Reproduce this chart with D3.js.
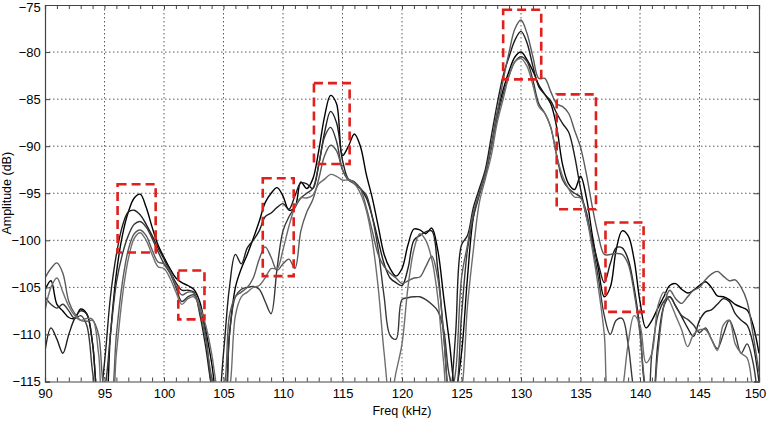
<!DOCTYPE html>
<html>
<head>
<meta charset="utf-8">
<script src="https://cdn.jsdelivr.net/npm/d3@7"></script>
<style>
  body { margin: 0; background: #fff; }
  svg { display: block; font-family: "Liberation Sans", Arial, sans-serif; }
</style>
</head>
<body>
<svg id="canvas" width="767" height="423"></svg>
<script>
// frequency grid (kHz), 0.5 kHz step
let freq = d3.range(90, 150.25, 0.5)

let trace1 = [-105.3,-104.3,-106.8,-107.5,-108.2,-108.3,-107.3,-107.8,-111,-117,-118,-110,-103.5,-99.5,-97,-95.5,-95.1,-96.5,-98.6,-100.5,
  -101.8,-103,-104,-104.5,-104.8,-105.2,-106.5,-109.5,-113,-117,-118,-110,-105,-103,-101.5,-99.8,-98,-96,-95,-94.4,
  -95.3,-96.8,-96.5,-93.8,-94.5,-93.5,-90.5,-86.8,-84.6,-85.5,-91,-90,-88.7,-90,-93,-95.5,-98.5,-101.5,-103,-103.8,
  -103,-100.5,-98.8,-98.9,-99.3,-98.7,-101,-106,-111,-116,-112,-104,-97.5,-95,-93,-90,-86.5,-84,-82,-80.5,
  -80,-80.8,-82,-83.5,-84.5,-85.5,-88,-92,-94,-94.6,-93.2,-95.5,-99.5,-103,-106,-105,-101,-99,-99.5,-102,
  -106.5,-109.3,-108.5,-107.2,-106,-104.8,-104.6,-105.2,-105.6,-105.3,-104.8,-104.4,-105,-105.9,-106,-106.3,-106.8,-107.1,-107.4,-109,
  -112]

let trace2 = [-111.8,-109.3,-110.5,-112,-110,-108.3,-107.5,-107.8,-111,-118,-113,-106,-101.5,-98.5,-97,-96.8,-97.3,-98.3,-99.5,-100.8,
  -102,-103.3,-104.5,-105.3,-105.3,-105.5,-107.8,-111.3,-115.5,-118,-112,-105,-101.5,-102.5,-100.8,-100,-99,-97.5,-97.1,-96.5,
  -96.1,-96.7,-95.3,-93.9,-94,-94.5,-92,-88.5,-86.3,-87.5,-91.5,-93.5,-93.8,-94.5,-95.5,-97.5,-100,-102.5,-104,-104.5,
  -104.8,-103,-100,-99.5,-99.1,-99,-103,-110,-117,-110,-100.5,-99.5,-96.5,-94.5,-92.5,-89,-85.5,-82.5,-80.5,-78.7,
  -77.8,-79,-81.5,-83.7,-84.5,-85.2,-86.5,-87.6,-88.5,-91,-94.5,-97.5,-100,-102.5,-104.5,-102.5,-100.8,-100.8,-102,-105,
  -109.5,-116,-117,-111,-107,-106,-107,-108.1,-109.3,-110.2,-108.5,-107.6,-107.4,-106.8,-106.2,-106.5,-107.8,-108.5,-109,-111,
  -115]

let trace3 = [-106,-106.8,-107.2,-106.8,-107.5,-108.3,-108,-109,-114,-118,-116,-110,-104.5,-101.5,-99.5,-98.3,-98,-98.6,-99.8,-101.2,
  -102.5,-103.5,-105,-106.5,-106,-105.8,-107,-110,-115.5,-118,-118,-110,-106,-105.2,-105,-104.9,-105.2,-106.5,-107.8,-103,
  -99,-97.5,-96.5,-95.5,-95,-94.5,-92,-89,-88,-89.5,-92.5,-93.6,-94,-94.5,-95.2,-97.5,-101,-106,-110.1,-110.5,
  -106.3,-106.1,-106,-106,-106.3,-106.8,-107.5,-109.5,-114.5,-116,-108,-101,-97.5,-95.2,-93,-90.2,-87,-84.5,-82.5,-81,
  -80.5,-81,-83,-85.5,-86.5,-88,-91,-93.6,-94.5,-95,-95.4,-97,-100.5,-104,-108,-110,-108.5,-108.3,-111,-116,
  -118,-118,-112,-108,-106.5,-106,-107,-108,-108.4,-109,-109.8,-109.3,-110.5,-111.5,-110,-108.5,-110,-112,-111,-113,
  -118]

let trace4 = [-104,-103,-102.4,-103.5,-106.5,-107.8,-108.5,-108.6,-108.5,-110,-116,-117,-110,-104.5,-101,-99.3,-98.9,-99.5,-101,-102.3,
  -102.5,-103.3,-104.8,-105.8,-105.5,-105.6,-107.5,-110.5,-114.5,-117,-116,-108,-106,-105.5,-105,-104,-102,-100.7,-101.8,-103.2,
  -102.5,-102,-103,-99,-97,-95.7,-93.5,-91,-89.9,-90.5,-92.5,-93.5,-93.8,-94.5,-96.5,-99,-101.5,-102.8,-103.5,-104,
  -104.6,-104.3,-104,-103.9,-102.8,-101.7,-104,-110,-117,-114,-104,-100.5,-97,-95,-92.9,-90,-86.5,-83,-80,-77.5,
  -76.6,-78,-80.5,-82.8,-82.8,-84.2,-85.5,-85.8,-86.5,-88.3,-90.1,-93,-96.5,-99.5,-101.5,-101.5,-101.4,-101.5,-102.5,-105.5,
  -110,-116,-118,-112,-107,-105.3,-106.2,-106.7,-106,-105.3,-105,-104.2,-103.6,-103.3,-103.8,-104.3,-104.2,-105,-106.5,-110,
  -114]

let trace5 = [-107.5,-105,-104,-105.5,-107,-108,-108.5,-108.3,-108.4,-112,-118,-118,-112,-106,-102,-99.8,-99.2,-100,-101.5,-102.8,
  -103,-104,-105.5,-106.8,-106.2,-106,-107,-109,-112,-116,-118,-116,-108,-106,-105.5,-105,-104.8,-104,-103,-103,
  -101,-98.5,-96.5,-95.5,-95.5,-95.2,-94,-93.5,-93,-93.2,-93.6,-93.6,-94,-95,-96.8,-100,-105,-112,-117,-114,
  -111,-105,-101,-99.3,-100,-102,-106,-113,-118,-118,-116,-107,-101,-96,-93.5,-91,-87.5,-85,-82.5,-81,
  -80.7,-81.5,-83.5,-85.8,-86.5,-88,-91,-93.2,-94.5,-95.4,-95.5,-97.5,-101,-105,-110,-118,-118,-116,-111,-108,
  -109,-113,-112,-107,-105.5,-106.5,-108,-109.5,-111.3,-110,-109.5,-109.5,-110.5,-111.7,-109,-108.5,-111,-112,-112.5,-116,
  -119]

let traces = [trace1, trace2, trace3, trace4, trace5]
let traceColors = ['#000000', '#1e1e1e', '#383838', '#5a5a5a', '#6e6e6e']

// red dashed boxes: [x0, x1] kHz and [top, bottom] dB
let boxX0 = [96.1, 101.2, 108.3, 112.6, 128.5, 133.0, 137.1]
let boxX1 = [99.3, 103.4, 110.9, 115.6, 131.7, 136.3, 140.3]
let boxTop = [-94.05, -103.2, -93.4, -83.3, -75.5, -84.5, -98.1]
let boxBottom = [-101.3, -108.4, -103.8, -91.9, -82.9, -96.7, -107.6]

let xTicks = d3.range(90, 151, 5)
let yTicks = d3.range(-115, -74, 5)

let svg = d3.select('#canvas')
let margin = {left: 45, right: 8, top: 5, bottom: 41.5}
let width = 767 - margin.left - margin.right
let height = 423 - margin.top - margin.bottom

let xScale = d3.scaleLinear().domain([90, 150]).range([0, width])
let yScale = d3.scaleLinear().domain([-115, -75]).range([height, 0])

let plot = svg.append('g').attr('transform', 'translate(' + margin.left + ',' + margin.top + ')')

plot.append('clipPath').attr('id', 'clip')
    .append('rect').attr('width', width).attr('height', height)

// grid
plot.append('g')
    .selectAll('line')
    .data(xTicks.slice(1, -1))
    .enter()
    .append('line')
    .attr('x1', (d) => xScale(d)).attr('x2', (d) => xScale(d))
    .attr('y1', 0).attr('y2', height)
    .attr('stroke', '#333').attr('stroke-width', 0.8).attr('stroke-dasharray', '1.5,2.5')

plot.append('g')
    .selectAll('line')
    .data(yTicks.slice(1, -1))
    .enter()
    .append('line')
    .attr('y1', (d) => yScale(d)).attr('y2', (d) => yScale(d))
    .attr('x1', 0).attr('x2', width)
    .attr('stroke', '#333').attr('stroke-width', 0.8).attr('stroke-dasharray', '1.5,2.5')

// traces
let line = d3.line()
    .x((d, i) => xScale(freq[i]))
    .y((d) => yScale(d))
    .curve(d3.curveCatmullRom.alpha(0.5))

plot.append('g')
    .attr('clip-path', 'url(#clip)')
    .selectAll('path')
    .data(traces)
    .enter()
    .append('path')
    .attr('d', (d) => line(d))
    .attr('fill', 'none')
    .attr('stroke', (d, i) => traceColors[i])
    .attr('stroke-width', 1.4)

// red boxes
plot.append('g')
    .selectAll('rect')
    .data(boxX0)
    .enter()
    .append('rect')
    .attr('x', (d) => xScale(d))
    .attr('y', (d, i) => yScale(boxTop[i]))
    .attr('width', (d, i) => xScale(boxX1[i]) - xScale(d))
    .attr('height', (d, i) => yScale(boxBottom[i]) - yScale(boxTop[i]))
    .attr('fill', 'none')
    .attr('stroke', '#e0201c')
    .attr('stroke-width', 2.6)
    .attr('stroke-dasharray', '9,5')

// axes (ticks inward)
let minorX = d3.range(90, 150.5, 1)

let bottomAxis = d3.axisBottom(xScale).tickValues(minorX).tickSize(-4)
    .tickFormat((d) => (d % 5 === 0 ? d : ''))
let topAxis = d3.axisTop(xScale).tickValues(minorX).tickSize(-4).tickFormat('')
let leftAxis = d3.axisLeft(yScale).tickValues(yTicks).tickSize(-5)
let rightAxis = d3.axisRight(yScale).tickValues(yTicks).tickSize(-5).tickFormat('')

let styleAxis = (g) => {
    g.select('.domain').attr('stroke', '#444').attr('stroke-width', 1.2)
    g.selectAll('.tick line').attr('stroke', '#444')
    g.selectAll('text').attr('font-size', 13).attr('fill', '#000')
        .attr('font-family', '"Liberation Sans", Arial, sans-serif')
}

plot.append('g').attr('transform', 'translate(0,' + height + ')').call(bottomAxis).call(styleAxis)
    .selectAll('text').attr('dy', '1.05em')
    .attr('dx', (d) => (d === 150 ? -4 : 0))
plot.append('g').call(topAxis).call(styleAxis)
plot.append('g').call(leftAxis).call(styleAxis)
    .selectAll('text').attr('dx', '-0.1em')
    .attr('dy', (d) => (d === -75 ? '0.5em' : '0.32em'))
plot.append('g').attr('transform', 'translate(' + width + ',0)').call(rightAxis).call(styleAxis)

// labels
svg.append('text')
    .attr('x', margin.left + width / 2)
    .attr('y', 415)
    .attr('text-anchor', 'middle')
    .attr('font-size', 12.5)
    .text('Freq (kHz)')

svg.append('text')
    .attr('transform', 'translate(11,' + (margin.top + height / 2) + ') rotate(-90)')
    .attr('text-anchor', 'middle')
    .attr('font-size', 12.5)
    .text('Amplitude (dB)')
</script>
</body>
</html>
